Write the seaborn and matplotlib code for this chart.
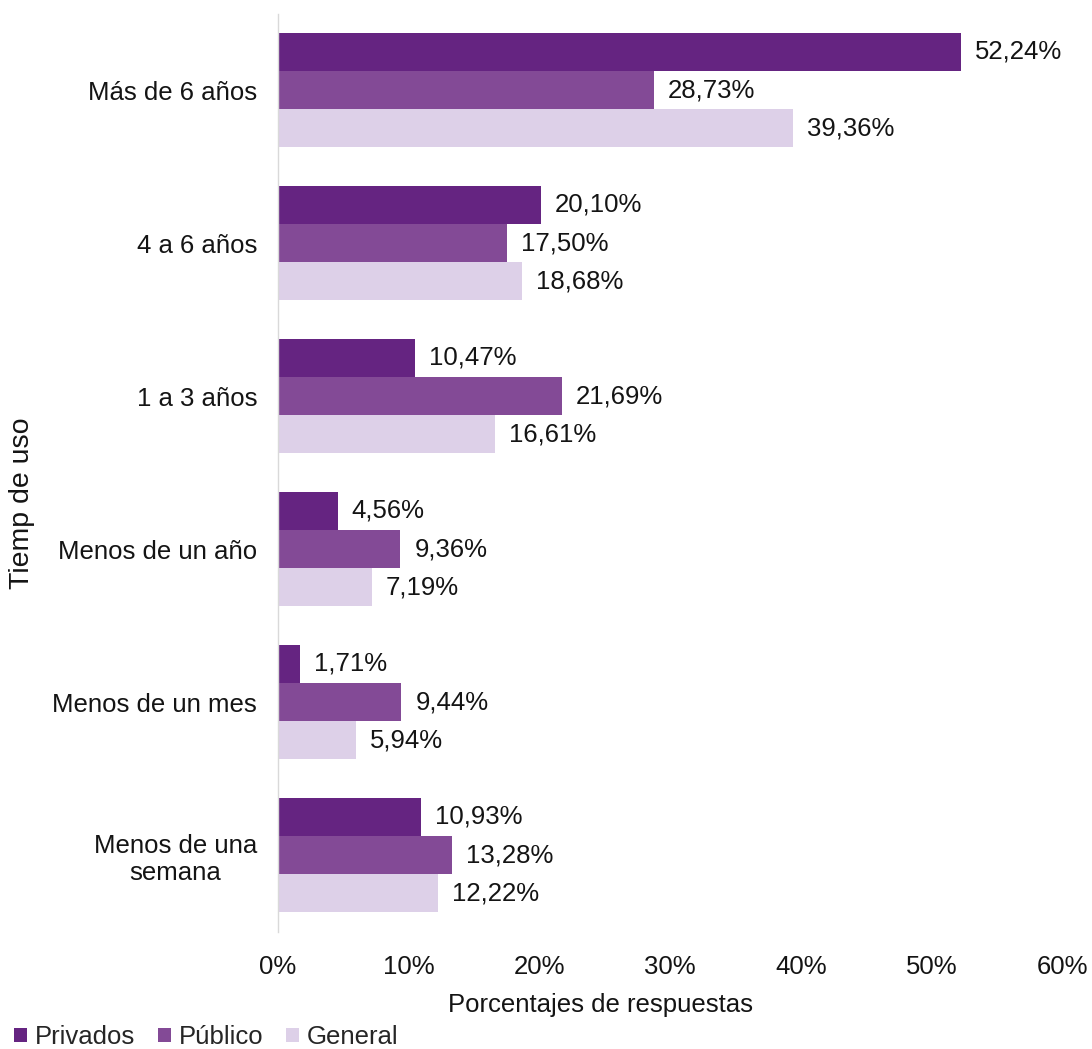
import matplotlib
matplotlib.use("Agg")
import matplotlib.pyplot as plt
import seaborn as sns
import pandas as pd

categorias = ["Más de 6 años", "4 a 6 años", "1 a 3 años", "Menos de un año",
              "Menos de un mes", "Menos de una\nsemana"]
series = ["Privados", "Público", "General"]
privados = [52.24, 20.10, 10.47, 4.56, 1.71, 10.93]
publico = [28.73, 17.50, 21.69, 9.36, 9.44, 13.28]
general = [39.36, 18.68, 16.61, 7.19, 5.94, 12.22]
colores = ["#652481", "#834A96", "#DDD0E8"]
xticks = [0, 10, 20, 30, 40, 50, 60]

rows = []
for serie, vals in zip(series, [privados, publico, general]):
    for cat, v in zip(categorias, vals):
        rows.append({"Tiempo": cat, "Grupo": serie, "Valor": v})
df = pd.DataFrame(rows)

sns.set_theme(style="white")
plt.rcParams["font.family"] = ["Liberation Sans", "DejaVu Sans"]
FS = 18.5
TXT = "#141414"

fig = plt.figure(figsize=(10.92, 10.49), dpi=100)
ax = fig.add_axes([0.2546, 0.112, 0.973 - 0.2546, 0.875])

sns.barplot(data=df, y="Tiempo", x="Valor", hue="Grupo", order=categorias,
            hue_order=series, palette=colores, orient="h", width=0.75,
            saturation=1, linewidth=0, ax=ax, legend=True)

for cont in ax.containers:
    labels = [f"{b.get_width():.2f}%".replace(".", ",") for b in cont]
    ax.bar_label(cont, labels=labels, padding=10, fontsize=FS, color=TXT,
                 bbox=dict(facecolor="white", edgecolor="none", pad=2))

ax.set_xlim(0, 60)
ax.set_xticks(xticks)
ax.set_xticklabels([f"{t}%" for t in xticks], fontsize=FS, color=TXT)
ax.tick_params(axis="y", labelsize=FS, labelcolor=TXT, length=0, pad=15)
ax.tick_params(axis="x", length=0, pad=17)
for lbl in ax.get_yticklabels():
    lbl.set_multialignment("center")

for s in ["top", "right", "bottom"]:
    ax.spines[s].set_visible(False)
ax.spines["left"].set_color("#d9d9d9")
ax.spines["left"].set_linewidth(1)

ax.set_xlabel("")
ax.set_ylabel("")
fig.text(600 / 1092, 1 - 1005 / 1049, "Porcentajes de respuestas", fontsize=FS,
         color=TXT, ha="center", va="center")
fig.text(22 / 1092, 1 - 503 / 1049, "Tiemp de uso", fontsize=20.5, color=TXT,
         ha="center", va="center", rotation=90)

leg = ax.legend(loc="center left", bbox_to_anchor=(14 / 1092, 1 - 1037 / 1049),
                bbox_transform=fig.transFigure, ncol=3, frameon=False,
                fontsize=FS, handlelength=0.5, handleheight=0.5,
                handletextpad=0.3, columnspacing=0.9, borderaxespad=0,
                borderpad=0)

fig.savefig("out.png", dpi=100)
